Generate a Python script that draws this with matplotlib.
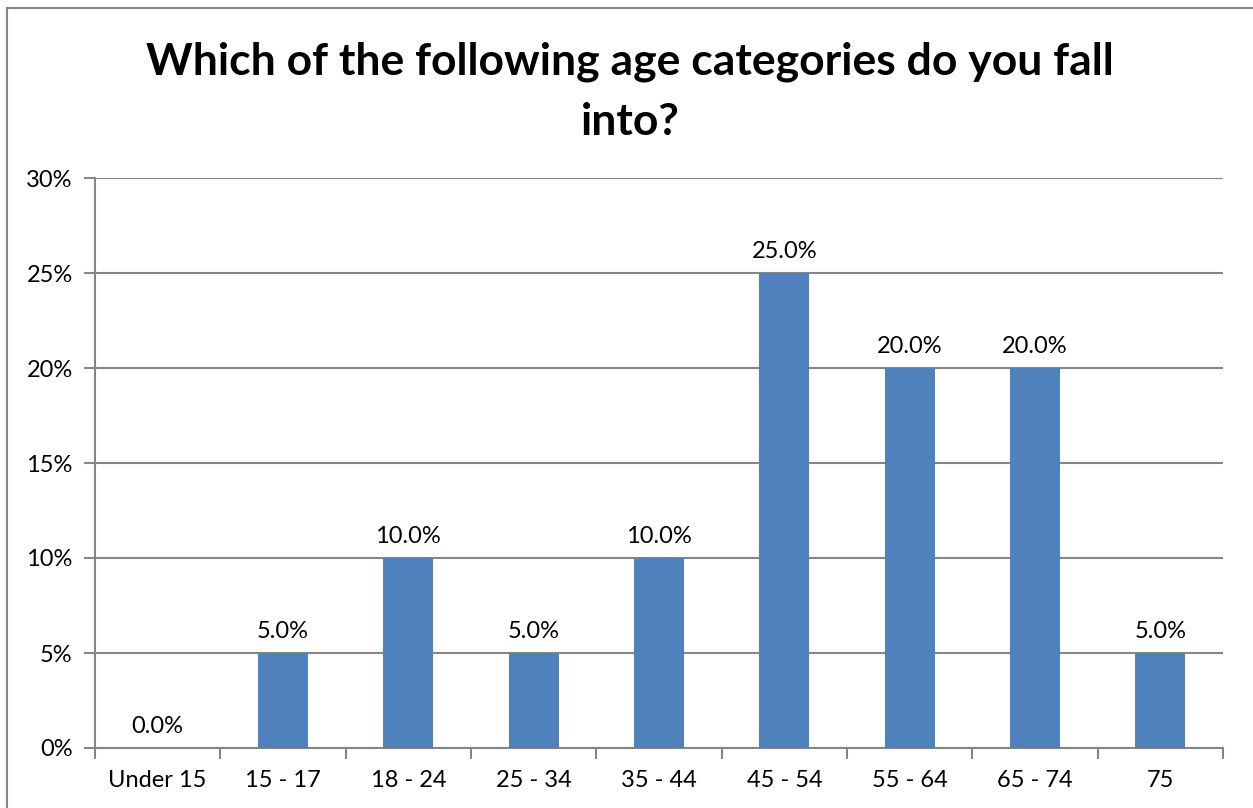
import matplotlib
matplotlib.use("Agg")
import matplotlib.pyplot as plt
from matplotlib.patches import Rectangle

categories = ["Under 15", "15 - 17", "18 - 24", "25 - 34", "35 - 44", "45 - 54", "55 - 64", "65 - 74", "75"]
values = [0.0, 5.0, 10.0, 5.0, 10.0, 25.0, 20.0, 20.0, 5.0]
yticks = [0, 5, 10, 15, 20, 25, 30]
title = "Which of the following age categories do you fall\ninto?"

plt.rcParams['font.family'] = ['Lato', 'DejaVu Sans']

W, H = 1253, 808
fig = plt.figure(figsize=(W / 100, H / 100), dpi=100)
fig.patches.append(Rectangle((7 / W, -0.1), 1.2, (H - 8) / H + 0.1, transform=fig.transFigure,
                             fill=False, edgecolor="#868686", linewidth=1.5))

ax = fig.add_axes([95 / W, (H - 748) / H, (1223 - 95) / W, (748 - 178) / H])
x = list(range(len(categories)))
ax.bar(x, values, width=0.4, color="#4F81BD", zorder=3)
ax.set_xlim(-0.5, len(categories) - 0.5)
ax.set_ylim(0, 30)
ax.set_yticks(yticks)
ax.set_yticklabels([f"{t}%" for t in yticks])
ax.yaxis.grid(True, color="#868686", linewidth=1.5, zorder=0)
ax.set_axisbelow(True)
for s in ["top", "right"]:
    ax.spines[s].set_visible(False)
for s in ["left", "bottom"]:
    ax.spines[s].set_color("#868686")
    ax.spines[s].set_linewidth(1.5)
ax.tick_params(axis="y", length=8, width=1.5, color="#868686", labelsize=17, pad=8)
ax.set_xticks([i - 0.5 for i in range(len(categories) + 1)], minor=False)
ax.set_xticklabels([])
ax.set_xticks(x, minor=True)
ax.set_xticklabels(categories, minor=True)
ax.tick_params(axis="x", which="major", length=8, width=1.5, color="#868686")
ax.tick_params(axis="x", which="minor", length=0, labelsize=17, pad=16)

for xi, v in zip(x, values):
    ax.annotate(f"{v:.1f}%", (xi, v), xytext=(0, 8), textcoords="offset points",
                ha="center", va="bottom", fontsize=17)

fig.text(0.503, (H - 92) / H, title, ha="center", va="center", fontsize=32,
         fontweight="bold", linespacing=1.6)

fig.savefig("out.png", dpi=100)
